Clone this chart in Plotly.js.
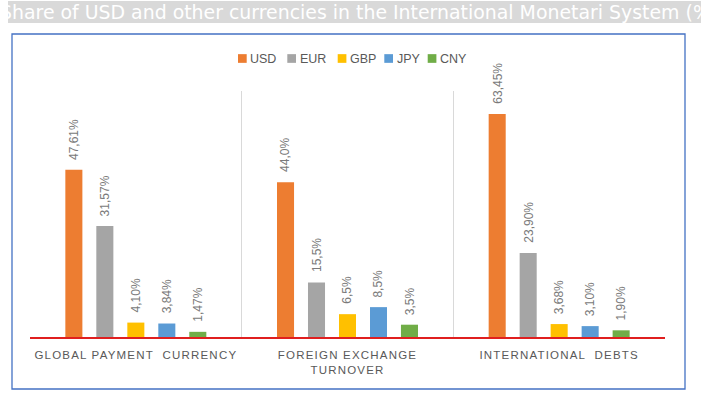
<!DOCTYPE html>
<html>
<head>
<meta charset="utf-8">
<script src="https://cdn.plot.ly/plotly-3.0.1.min.js"></script>
<style>
  html, body { margin: 0; padding: 0; background: #ffffff; }
  #chart { width: 701px; height: 394px; }
  .xtick text { letter-spacing: 1.2px; white-space: pre; }
</style>
</head>
<body>
<div id="chart"></div>
<script>
// ---- data ----
const categories = ['GLOBAL PAYMENT  CURRENCY', 'FOREIGN EXCHANGE<br>TURNOVER', 'INTERNATIONAL  DEBTS'];
const currencies = ['USD', 'EUR', 'GBP', 'JPY', 'CNY'];
const usdValues = [47.61, 44.0, 63.45];
const eurValues = [31.57, 15.5, 23.90];
const gbpValues = [4.10, 6.5, 3.68];
const jpyValues = [3.84, 8.5, 3.10];
const cnyValues = [1.47, 3.5, 1.90];
const usdLabels = ['47,61%', '44,0%', '63,45%'];
const eurLabels = ['31,57%', '15,5%', '23,90%'];
const gbpLabels = ['4,10%', '6,5%', '3,68%'];
const jpyLabels = ['3,84%', '8,5%', '3,10%'];
const cnyLabels = ['1,47%', '3,5%', '1,90%'];
const titleText = 'Share of USD and other currencies in the International Monetari System (%)';

// ---- styles / layout positions (pixels) ----
const colors = ['#ED7D31', '#A5A5A5', '#FFC000', '#5B9BD5', '#70AD47'];
const legendKeyLeftPx = [238, 287.3, 337.7, 384.3, 427.7];
const legendKeySizePx = 8.7;
const legendTextGapPx = 3.5;
const legendCenterYPx = 58.5;
const seriesValues = [usdValues, eurValues, gbpValues, jpyValues, cnyValues];
const seriesLabels = [usdLabels, eurLabels, gbpLabels, jpyLabels, cnyLabels];
const bargap = 0.268;
const bargroupgap = 0.45;

// plot area in pixels
const PL = 30, PW = 635, PB = 337, PH = 246;
const px2x = (px) => (px - PL) / PW;
const px2y = (py) => (PB - py) / PH;

const traces = currencies.map((name, k) => ({
  type: 'bar',
  name: name,
  x: categories,
  y: seriesValues[k],
  marker: { color: colors[k] },
  showlegend: false,
  hoverinfo: 'skip'
}));

const slot = (1 - bargap) / currencies.length;
const annotations = [];
currencies.forEach((name, k) => {
  seriesValues[k].forEach((v, ci) => {
    annotations.push({
      xref: 'x', yref: 'y',
      x: ci + (k - (currencies.length - 1) / 2) * slot,
      y: v,
      text: seriesLabels[k][ci],
      textangle: -90,
      showarrow: false,
      xanchor: 'center', yanchor: 'bottom',
      yshift: 8,
      font: { family: 'Liberation Sans, Arial, sans-serif', size: 12, color: '#7a7a7a' }
    });
  });
});

// title text (white on grey band)
annotations.push({
  xref: 'paper', yref: 'paper',
  x: px2x(-2.4), y: px2y(12),
  xanchor: 'left', yanchor: 'middle',
  text: titleText,
  showarrow: false,
  font: { family: 'DejaVu Sans, sans-serif', size: 18.9, color: '#ffffff' }
});

const shapes = [
  { type: 'rect', xref: 'paper', yref: 'paper', layer: 'below',
    x0: px2x(8), x1: px2x(710), y0: px2y(23), y1: px2y(1),
    fillcolor: '#d9d9d9', line: { width: 0 } },
  { type: 'rect', xref: 'paper', yref: 'paper', layer: 'below',
    x0: px2x(12), x1: px2x(685), y0: px2y(389), y1: px2y(34),
    fillcolor: 'rgba(0,0,0,0)', line: { color: '#4472C4', width: 1.3 } }
];

// legend: colour keys + names
currencies.forEach((name, k) => {
  const x0 = legendKeyLeftPx[k];
  shapes.push({
    type: 'rect', xref: 'paper', yref: 'paper', layer: 'above',
    x0: px2x(x0), x1: px2x(x0 + legendKeySizePx),
    y0: px2y(legendCenterYPx + legendKeySizePx / 2), y1: px2y(legendCenterYPx - legendKeySizePx / 2),
    fillcolor: colors[k], line: { width: 0 }
  });
  annotations.push({
    xref: 'paper', yref: 'paper',
    x: px2x(x0 + legendKeySizePx + legendTextGapPx), y: px2y(legendCenterYPx),
    xanchor: 'left', yanchor: 'middle',
    text: name, showarrow: false, borderpad: 0, borderwidth: 0,
    font: { family: 'Liberation Sans, Arial, sans-serif', size: 12.5, color: '#595959' }
  });
});

const layout = {
  width: 701, height: 394,
  margin: { l: PL, r: 701 - PL - PW, t: PB - PH, b: 394 - PB, pad: 0 },
  paper_bgcolor: '#ffffff',
  plot_bgcolor: '#ffffff',
  barmode: 'group',
  bargap: bargap,
  bargroupgap: bargroupgap,
  showlegend: false,
  xaxis: {
    type: 'category',
    tickson: 'boundaries',
    showgrid: true,
    gridcolor: '#d9d9d9',
    gridwidth: 1,
    showline: true,
    linecolor: '#e01f1f',
    linewidth: 1.5,
    ticks: '',
    tickangle: 0,
    ticklabelstandoff: 7,
    tickfont: { family: 'Liberation Sans, Arial, sans-serif', size: 11.5, color: '#595959' },
    fixedrange: true
  },
  yaxis: {
    range: [0, 70],
    showgrid: false,
    zeroline: false,
    showticklabels: false,
    ticks: '',
    fixedrange: true
  },
  shapes: shapes,
  annotations: annotations
};

Plotly.newPlot('chart', traces, layout, { displayModeBar: false, staticPlot: true });
</script>
</body>
</html>
